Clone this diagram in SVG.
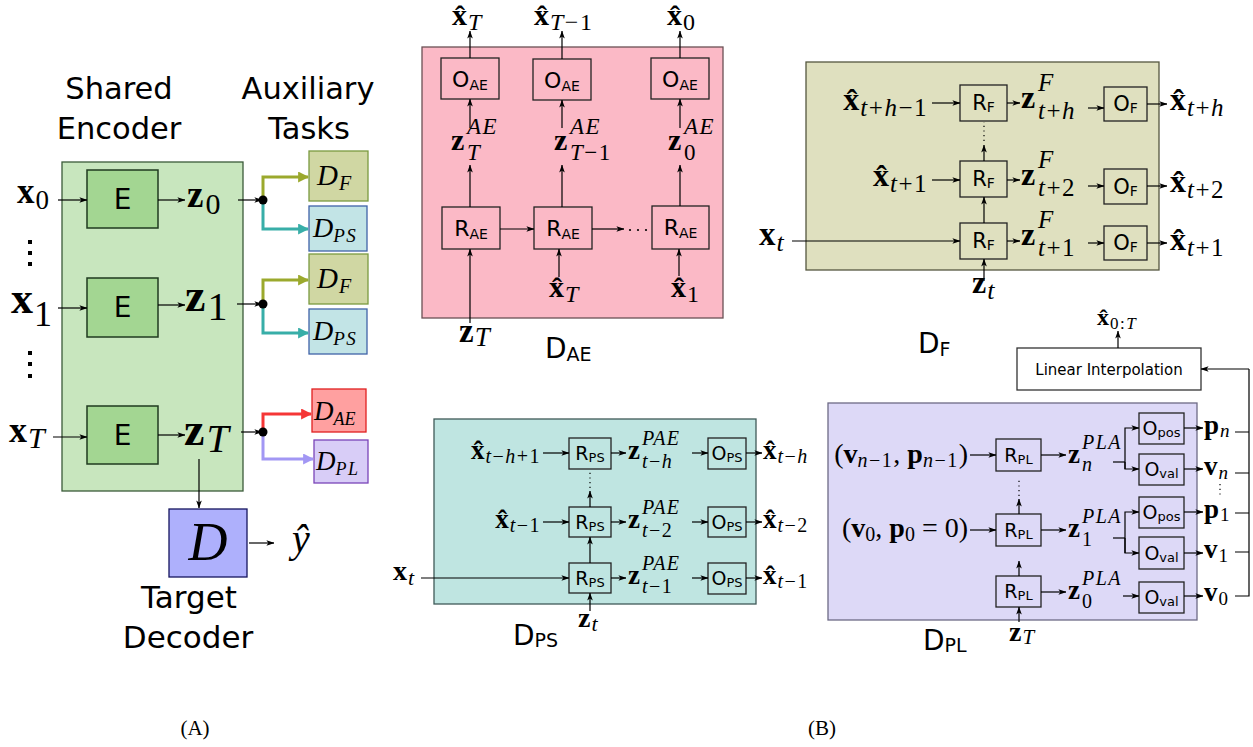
<svg xmlns="http://www.w3.org/2000/svg" width="1253" height="747" viewBox="0 0 1253 747">
<style>
.s{font-family:"DejaVu Sans",sans-serif}
.m{font-family:"Liberation Serif","Times New Roman",serif}
.b{font-weight:bold}
.i{font-style:italic}
.ss{letter-spacing:1.5px}
.ln{fill:none;stroke:#000;stroke-width:1.2;marker-end:url(#ah)}
.pl{fill:none;stroke:#000;stroke-width:1.2}
.dt{fill:none;stroke:#000;stroke-width:1.2;stroke-dasharray:1.2 3.5}
.bx{fill:none;stroke:#222;stroke-width:1.3}
.cl{fill:none;stroke-width:3}
</style>
<defs>
<marker id="ah" viewBox="0 0 10 8" refX="9.5" refY="4" markerWidth="8" markerHeight="6.4" markerUnits="userSpaceOnUse" orient="auto"><path d="M0,0.5 L10,4 L0,7.5 L2.5,4 z" fill="#000"/></marker>
<marker id="ao" viewBox="0 0 10 10" refX="9" refY="5" markerWidth="11" markerHeight="11" markerUnits="userSpaceOnUse" orient="auto"><path d="M0,0 L10,5 L0,10 z" fill="#9ba92d"/></marker>
<marker id="at" viewBox="0 0 10 10" refX="9" refY="5" markerWidth="11" markerHeight="11" markerUnits="userSpaceOnUse" orient="auto"><path d="M0,0 L10,5 L0,10 z" fill="#38aea8"/></marker>
<marker id="ar" viewBox="0 0 10 10" refX="9" refY="5" markerWidth="11" markerHeight="11" markerUnits="userSpaceOnUse" orient="auto"><path d="M0,0 L10,5 L0,10 z" fill="#f53636"/></marker>
<marker id="al" viewBox="0 0 10 10" refX="9" refY="5" markerWidth="11" markerHeight="11" markerUnits="userSpaceOnUse" orient="auto"><path d="M0,0 L10,5 L0,10 z" fill="#a297f4"/></marker>
</defs>
<rect width="1253" height="747" fill="#fff"/>

<!-- ===== Panel A ===== -->
<g id="titles-A" class="s" font-size="30.5" text-anchor="middle">
<text x="119" y="99">Shared</text>
<text x="119" y="139">Encoder</text>
<text x="308" y="99">Auxiliary</text>
<text x="309" y="139">Tasks</text>
</g>
<g id="shared-encoder"><rect x="62" y="162" width="181" height="329" fill="#c8e6be" stroke="#3b5b39" stroke-width="1.3"/></g>
<g id="E0"><rect x="87" y="170" width="71" height="58" fill="#a3d692" stroke="#1f3a1f" stroke-width="1.5"/><text class="s" x="122.5" y="209" font-size="28" text-anchor="middle">E</text></g>
<g id="E1"><rect x="87" y="278" width="71" height="59" fill="#a3d692" stroke="#1f3a1f" stroke-width="1.5"/><text class="s" x="122.5" y="317" font-size="28" text-anchor="middle">E</text></g>
<g id="ET"><rect x="87" y="406" width="71" height="58" fill="#a3d692" stroke="#1f3a1f" stroke-width="1.5"/><text class="s" x="122.5" y="445" font-size="28" text-anchor="middle">E</text></g>
<g id="labels-A" class="m">
<text x="17" y="203" font-size="35"><tspan class="b">x</tspan><tspan font-size="27" dx="1" dy="6">0</tspan></text>
<text x="11" y="313" font-size="44"><tspan class="b">x</tspan><tspan font-size="36" dx="1" dy="13">1</tspan></text>
<text x="9" y="442" font-size="36"><tspan class="b">x</tspan><tspan class="i" font-size="30" dx="1" dy="6">T</tspan></text>
<text x="187" y="207" font-size="37"><tspan class="b">z</tspan><tspan font-size="30" dx="2" dy="7">0</tspan></text>
<text x="185" y="311" font-size="46"><tspan class="b">z</tspan><tspan font-size="40" dx="2" dy="9">1</tspan></text>
<text x="184" y="445" font-size="46"><tspan class="b">z</tspan><tspan class="i" font-size="40" dx="2" dy="7">T</tspan></text>
</g>
<g id="vdots-A" fill="#000">
<rect x="28" y="240" width="4" height="4"/><rect x="28" y="251" width="4" height="4"/><rect x="28" y="262" width="4" height="4"/>
<rect x="28" y="351" width="4" height="4"/><rect x="28" y="362" width="4" height="4"/><rect x="28" y="374" width="4" height="4"/>
</g>
<g id="DF1"><rect x="309" y="151" width="59" height="50" fill="#d0d7a3" stroke="#7a9a40" stroke-width="1.3"/><text class="m i" x="317" y="185" font-size="29">D<tspan font-size="20" dx="1" dy="5">F</tspan></text></g>
<g id="DPS1"><rect x="309" y="206" width="58" height="45" fill="#c2e4e6" stroke="#3f63a8" stroke-width="1.3"/><text class="m i" x="313" y="237" font-size="28">D<tspan class="ss" font-size="19" dy="5">PS</tspan></text></g>
<g id="DF2"><rect x="309" y="254" width="59" height="50" fill="#d0d7a3" stroke="#7a9a40" stroke-width="1.3"/><text class="m i" x="317" y="288" font-size="29">D<tspan font-size="20" dx="1" dy="5">F</tspan></text></g>
<g id="DPS2"><rect x="309" y="309" width="58" height="45" fill="#c2e4e6" stroke="#3f63a8" stroke-width="1.3"/><text class="m i" x="313" y="340" font-size="28">D<tspan class="ss" font-size="19" dy="5">PS</tspan></text></g>
<g id="DAE-aux"><rect x="312" y="389" width="54" height="43" fill="#ffa0a0" stroke="#e02020" stroke-width="1.3"/><text class="m i" x="314" y="420" font-size="27">D<tspan font-size="18" dy="5">AE</tspan></text></g>
<g id="DPL-aux"><rect x="314" y="440" width="54" height="43" fill="#d8cdf7" stroke="#7a44b8" stroke-width="1.3"/><text class="m i" x="316" y="470" font-size="27">D<tspan class="ss" font-size="18" dy="5">PL</tspan></text></g>
<g id="target-decoder"><rect x="169" y="509" width="78" height="68" fill="#aeb0fc" stroke="#15155f" stroke-width="1.3"/><text class="m i" x="208" y="560" font-size="54" text-anchor="middle">D</text></g>
<text id="yhat" class="m i" x="292" y="552" font-size="40">ŷ</text>
<g id="target-title" class="s" font-size="31" text-anchor="middle">
<text x="189" y="608">Target</text>
<text x="188" y="648">Decoder</text>
</g>

<g id="connectors-A">
<path class="ln" d="M58,200 H87"/>
<path class="ln" d="M158,200 H185"/>
<path class="ln" d="M238,200 H262"/>
<path class="ln" d="M58,308 H87"/>
<path class="ln" d="M158,305 H185"/>
<path class="ln" d="M237,304 H262"/>
<path class="ln" d="M53,437 H87"/>
<path class="ln" d="M158,435 H185"/>
<path class="ln" d="M241,432 H262"/>
<path class="cl" stroke="#9ba92d" marker-end="url(#ao)" d="M263,200 V177 H308"/>
<path class="cl" stroke="#38aea8" marker-end="url(#at)" d="M263,200 V229 H308"/>
<path class="cl" stroke="#9ba92d" marker-end="url(#ao)" d="M263,304 V280 H308"/>
<path class="cl" stroke="#38aea8" marker-end="url(#at)" d="M263,304 V333 H308"/>
<path class="cl" stroke="#f53636" marker-end="url(#ar)" d="M263,432 V414 H311"/>
<path class="cl" stroke="#a297f4" marker-end="url(#al)" d="M263,432 V459 H313"/>
<circle cx="263" cy="200" r="4.5"/>
<circle cx="263" cy="304" r="4.5"/>
<circle cx="263" cy="432" r="4.5"/>
<path class="ln" d="M199,459 V508"/>
<path class="ln" d="M249,543 H274"/>
</g>

<!-- ===== D_AE ===== -->
<g id="DAE-panel"><rect x="422" y="47" width="301" height="271" fill="#fbb9c6" stroke="#6b5055" stroke-width="1.3"/></g>
<g id="OAE1"><rect class="bx" x="441" y="58" width="58" height="41"/><text class="s" x="470" y="87" font-size="22" text-anchor="middle">O<tspan font-size="14" dy="3">AE</tspan></text></g>
<g id="OAE2"><rect class="bx" x="533" y="59" width="58" height="41"/><text class="s" x="562" y="88" font-size="22" text-anchor="middle">O<tspan font-size="14" dy="3">AE</tspan></text></g>
<g id="OAE3"><rect class="bx" x="651" y="58" width="58" height="41"/><text class="s" x="680" y="87" font-size="22" text-anchor="middle">O<tspan font-size="14" dy="3">AE</tspan></text></g>
<g id="RAE1"><rect class="bx" x="442" y="207" width="58" height="42"/><text class="s" x="471" y="236" font-size="22" text-anchor="middle">R<tspan font-size="14" dy="3">AE</tspan></text></g>
<g id="RAE2"><rect class="bx" x="534" y="207" width="58" height="42"/><text class="s" x="563" y="236" font-size="22" text-anchor="middle">R<tspan font-size="14" dy="3">AE</tspan></text></g>
<g id="RAE3"><rect class="bx" x="652" y="206" width="57" height="43"/><text class="s" x="680.5" y="235" font-size="22" text-anchor="middle">R<tspan font-size="14" dy="3">AE</tspan></text></g>
<g id="labels-AE" class="m">
<text x="452" y="25" font-size="30"><tspan class="b">x̂</tspan><tspan class="i" font-size="24" dx="1" dy="5">T</tspan></text>
<text x="534" y="25" font-size="30"><tspan class="b">x̂</tspan><tspan class="ss" font-size="24" dx="1" dy="5"><tspan class="i">T</tspan>−1</tspan></text>
<text x="667" y="25" font-size="30"><tspan class="b">x̂</tspan><tspan font-size="24" dx="1" dy="5">0</tspan></text>
<text font-size="30"><tspan class="b" x="451" y="150">z</tspan><tspan class="i ss" font-size="23" x="467" y="134">AE</tspan><tspan class="i" font-size="23" x="467" y="160">T</tspan></text>
<text font-size="30"><tspan class="b" x="554" y="150">z</tspan><tspan class="i ss" font-size="23" x="570" y="134">AE</tspan><tspan class="ss" font-size="23" x="570" y="160"><tspan class="i">T</tspan>−1</tspan></text>
<text font-size="30"><tspan class="b" x="668" y="150">z</tspan><tspan class="i ss" font-size="23" x="684" y="134">AE</tspan><tspan font-size="23" x="684" y="160">0</tspan></text>
<text x="459" y="342" font-size="33"><tspan class="b">z</tspan><tspan class="i" font-size="27" dx="1" dy="4">T</tspan></text>
<text x="549" y="297" font-size="30"><tspan class="b">x̂</tspan><tspan class="i" font-size="24" dx="1" dy="5">T</tspan></text>
<text x="671" y="297" font-size="30"><tspan class="b">x̂</tspan><tspan font-size="24" dx="1" dy="5">1</tspan></text>
</g>
<text id="DAE-title" class="s" x="545" y="358" font-size="28">D<tspan font-size="19" dy="3">AE</tspan></text>
<g id="connectors-AE">
<path class="ln" d="M470,58 V31"/><path class="ln" d="M562,59 V31"/><path class="ln" d="M680,58 V31"/>
<path class="ln" d="M470,128 V99"/><path class="ln" d="M562,128 V100"/><path class="ln" d="M680,128 V99"/>
<path class="ln" d="M470,207 V165"/><path class="ln" d="M562,207 V165"/><path class="ln" d="M680,206 V165"/>
<path class="ln" d="M500,229 H534"/><path class="ln" d="M592,229 H624"/>
<path class="ln" d="M470,323 V249"/><path class="ln" d="M559,277 V249"/><path class="ln" d="M679,276 V249"/>
<g fill="#000"><circle cx="630" cy="230" r="1.1"/><circle cx="638" cy="230" r="1.1"/><circle cx="646" cy="230" r="1.1"/></g>
</g>

<!-- ===== D_F ===== -->
<g id="DF-panel"><rect x="806" y="62" width="353" height="208" fill="#dfe0bf" stroke="#55573f" stroke-width="1.3"/></g>
<g id="RF1"><rect class="bx" x="960" y="85" width="47" height="36"/><text class="s" x="983.5" y="110" font-size="21" text-anchor="middle">R<tspan font-size="14" dy="2">F</tspan></text></g>
<g id="RF2"><rect class="bx" x="960" y="161" width="47" height="36"/><text class="s" x="983.5" y="186" font-size="21" text-anchor="middle">R<tspan font-size="14" dy="2">F</tspan></text></g>
<g id="RF3"><rect class="bx" x="960" y="223" width="47" height="36"/><text class="s" x="983.5" y="248" font-size="21" text-anchor="middle">R<tspan font-size="14" dy="2">F</tspan></text></g>
<g id="OF1"><rect class="bx" x="1104" y="87" width="43" height="34"/><text class="s" x="1125.5" y="111" font-size="21" text-anchor="middle">O<tspan font-size="14" dy="2">F</tspan></text></g>
<g id="OF2"><rect class="bx" x="1104" y="169" width="43" height="35"/><text class="s" x="1125.5" y="194" font-size="21" text-anchor="middle">O<tspan font-size="14" dy="2">F</tspan></text></g>
<g id="OF3"><rect class="bx" x="1104" y="226" width="43" height="34"/><text class="s" x="1125.5" y="250" font-size="21" text-anchor="middle">O<tspan font-size="14" dy="2">F</tspan></text></g>
<g id="labels-F" class="m">
<text x="928" y="110" font-size="32" text-anchor="end"><tspan class="b">x̂</tspan><tspan class="ss" font-size="25" dx="1" dy="6"><tspan class="i">t</tspan>+<tspan class="i">h</tspan>−1</tspan></text>
<text x="928" y="186" font-size="32" text-anchor="end"><tspan class="b">x̂</tspan><tspan class="ss" font-size="25" dx="1" dy="6"><tspan class="i">t</tspan>+1</tspan></text>
<text x="759" y="245" font-size="33"><tspan class="b">x</tspan><tspan class="i" font-size="26" dx="1" dy="6">t</tspan></text>
<text font-size="32"><tspan class="b" x="1021" y="108">z</tspan><tspan class="i" font-size="25" x="1038" y="91">F</tspan><tspan class="ss" font-size="25" x="1038" y="119"><tspan class="i">t</tspan>+<tspan class="i">h</tspan></tspan></text>
<text font-size="32"><tspan class="b" x="1021" y="185">z</tspan><tspan class="i" font-size="25" x="1038" y="168">F</tspan><tspan class="ss" font-size="25" x="1038" y="196"><tspan class="i">t</tspan>+2</tspan></text>
<text font-size="32"><tspan class="b" x="1021" y="245">z</tspan><tspan class="i" font-size="25" x="1038" y="228">F</tspan><tspan class="ss" font-size="25" x="1038" y="256"><tspan class="i">t</tspan>+1</tspan></text>
<text x="1170" y="110" font-size="32"><tspan class="b">x̂</tspan><tspan class="ss" font-size="25" dx="1" dy="6"><tspan class="i">t</tspan>+<tspan class="i">h</tspan></tspan></text>
<text x="1170" y="192" font-size="32"><tspan class="b">x̂</tspan><tspan class="ss" font-size="25" dx="1" dy="6"><tspan class="i">t</tspan>+2</tspan></text>
<text x="1170" y="250" font-size="32"><tspan class="b">x̂</tspan><tspan class="ss" font-size="25" dx="1" dy="6"><tspan class="i">t</tspan>+1</tspan></text>
<text x="972" y="293" font-size="32"><tspan class="b">z</tspan><tspan class="i" font-size="26" dx="1" dy="6">t</tspan></text>
</g>
<text id="DF-title" class="s" x="918" y="353" font-size="28">D<tspan font-size="19" dy="3">F</tspan></text>
<g id="connectors-F">
<path class="ln" d="M932,103 H960"/><path class="ln" d="M932,180 H960"/><path class="ln" d="M792,241 H960"/>
<path class="ln" d="M1007,103 H1020"/><path class="ln" d="M1007,180 H1020"/><path class="ln" d="M1007,241 H1020"/>
<path class="ln" d="M1088,108 H1104"/><path class="ln" d="M1088,186 H1104"/><path class="ln" d="M1088,243 H1104"/>
<path class="ln" d="M1147,104 H1167"/><path class="ln" d="M1147,186 H1167"/><path class="ln" d="M1147,243 H1167"/>
<path class="ln" d="M984,223 V197"/><path class="ln" d="M984,161 V145"/><path class="dt" d="M984,141 V122"/>
<path class="ln" d="M984,281 V259"/>
</g>

<!-- ===== D_PS ===== -->
<g id="DPS-panel"><rect x="434" y="419" width="322" height="185" fill="#bfe5e1" stroke="#3f5a58" stroke-width="1.3"/></g>
<g id="RPS1"><rect class="bx" x="569" y="438" width="42" height="31"/><text class="s" x="590" y="460" font-size="19" text-anchor="middle">R<tspan font-size="13" dy="2">PS</tspan></text></g>
<g id="RPS2"><rect class="bx" x="569" y="507" width="42" height="30"/><text class="s" x="590" y="529" font-size="19" text-anchor="middle">R<tspan font-size="13" dy="2">PS</tspan></text></g>
<g id="RPS3"><rect class="bx" x="569" y="563" width="42" height="30"/><text class="s" x="590" y="585" font-size="19" text-anchor="middle">R<tspan font-size="13" dy="2">PS</tspan></text></g>
<g id="OPS1"><rect class="bx" x="708" y="438" width="38" height="31"/><text class="s" x="727" y="460" font-size="19" text-anchor="middle">O<tspan font-size="13" dy="2">PS</tspan></text></g>
<g id="OPS2"><rect class="bx" x="708" y="507" width="38" height="30"/><text class="s" x="727" y="529" font-size="19" text-anchor="middle">O<tspan font-size="13" dy="2">PS</tspan></text></g>
<g id="OPS3"><rect class="bx" x="708" y="563" width="38" height="31"/><text class="s" x="727" y="585" font-size="19" text-anchor="middle">O<tspan font-size="13" dy="2">PS</tspan></text></g>
<g id="labels-PS" class="m">
<text x="541" y="459" font-size="27" text-anchor="end"><tspan class="b">x̂</tspan><tspan class="ss" font-size="20" dx="1" dy="4"><tspan class="i">t</tspan>−<tspan class="i">h</tspan>+1</tspan></text>
<text x="541" y="528" font-size="27" text-anchor="end"><tspan class="b">x̂</tspan><tspan class="ss" font-size="20" dx="1" dy="4"><tspan class="i">t</tspan>−1</tspan></text>
<text x="393" y="580" font-size="28"><tspan class="b">x</tspan><tspan class="i" font-size="22" dx="1" dy="5">t</tspan></text>
<text font-size="27"><tspan class="b" x="628" y="459">z</tspan><tspan class="i ss" font-size="20" x="642" y="445">PAE</tspan><tspan class="ss" font-size="20" x="642" y="468"><tspan class="i">t</tspan>−<tspan class="i">h</tspan></tspan></text>
<text font-size="27"><tspan class="b" x="628" y="528">z</tspan><tspan class="i ss" font-size="20" x="642" y="514">PAE</tspan><tspan class="ss" font-size="20" x="642" y="537"><tspan class="i">t</tspan>−2</tspan></text>
<text font-size="27"><tspan class="b" x="628" y="584">z</tspan><tspan class="i ss" font-size="20" x="642" y="570">PAE</tspan><tspan class="ss" font-size="20" x="642" y="593"><tspan class="i">t</tspan>−1</tspan></text>
<text x="763" y="459" font-size="27"><tspan class="b">x̂</tspan><tspan class="ss" font-size="20" dx="1" dy="4"><tspan class="i">t</tspan>−<tspan class="i">h</tspan></tspan></text>
<text x="763" y="528" font-size="27"><tspan class="b">x̂</tspan><tspan class="ss" font-size="20" dx="1" dy="4"><tspan class="i">t</tspan>−2</tspan></text>
<text x="763" y="584" font-size="27"><tspan class="b">x̂</tspan><tspan class="ss" font-size="20" dx="1" dy="4"><tspan class="i">t</tspan>−1</tspan></text>
<text x="578" y="627" font-size="28"><tspan class="b">z</tspan><tspan class="i" font-size="22" dx="1" dy="4">t</tspan></text>
</g>
<text id="DPS-title" class="s" x="513" y="645" font-size="28">D<tspan font-size="19" dy="2">PS</tspan></text>
<g id="connectors-PS">
<path class="ln" d="M543,453 H569"/><path class="ln" d="M543,522 H569"/><path class="ln" d="M421,578 H569"/>
<path class="ln" d="M611,453 H626"/><path class="ln" d="M611,522 H626"/><path class="ln" d="M611,578 H626"/>
<path class="ln" d="M692,453 H708"/><path class="ln" d="M692,522 H708"/><path class="ln" d="M692,578 H708"/>
<path class="ln" d="M746,453 H762"/><path class="ln" d="M746,522 H762"/><path class="ln" d="M746,578 H762"/>
<path class="ln" d="M590,563 V537"/><path class="ln" d="M590,507 V491"/><path class="dt" d="M590,488 V470"/>
<path class="ln" d="M590,611 V593"/>
</g>

<!-- ===== D_PL ===== -->
<g id="linear-interp"><rect x="1017" y="348" width="184" height="42" fill="#fff" stroke="#333" stroke-width="1.3"/><text class="s" x="1109" y="375" font-size="15" text-anchor="middle">Linear Interpolation</text></g>
<text id="x0T" class="m" x="1097" y="325" font-size="24"><tspan class="b">x̂</tspan><tspan class="ss" font-size="17" dx="1" dy="4">0:<tspan class="i">T</tspan></tspan></text>
<g id="DPL-panel"><rect x="828" y="403" width="369" height="217" fill="#ddd9f7" stroke="#6d6a86" stroke-width="1.3"/></g>
<g id="RPL1"><rect class="bx" x="996" y="439" width="45" height="32"/><text class="s" x="1018.5" y="462" font-size="19" text-anchor="middle">R<tspan font-size="13" dy="2">PL</tspan></text></g>
<g id="RPL2"><rect class="bx" x="996" y="514" width="45" height="32"/><text class="s" x="1018.5" y="537" font-size="19" text-anchor="middle">R<tspan font-size="13" dy="2">PL</tspan></text></g>
<g id="RPL3"><rect class="bx" x="996" y="576" width="45" height="31"/><text class="s" x="1018.5" y="598" font-size="19" text-anchor="middle">R<tspan font-size="13" dy="2">PL</tspan></text></g>
<g id="Opos1"><rect class="bx" x="1139" y="413" width="45" height="31"/><text class="s" x="1161.5" y="435" font-size="19" text-anchor="middle">O<tspan font-size="13" dy="2">pos</tspan></text></g>
<g id="Oval1"><rect class="bx" x="1139" y="454" width="45" height="31"/><text class="s" x="1161.5" y="476" font-size="19" text-anchor="middle">O<tspan font-size="13" dy="2">val</tspan></text></g>
<g id="Opos2"><rect class="bx" x="1139" y="497" width="45" height="31"/><text class="s" x="1161.5" y="519" font-size="19" text-anchor="middle">O<tspan font-size="13" dy="2">pos</tspan></text></g>
<g id="Oval2"><rect class="bx" x="1139" y="537" width="45" height="32"/><text class="s" x="1161.5" y="560" font-size="19" text-anchor="middle">O<tspan font-size="13" dy="2">val</tspan></text></g>
<g id="Oval3"><rect class="bx" x="1139" y="582" width="45" height="31"/><text class="s" x="1161.5" y="604" font-size="19" text-anchor="middle">O<tspan font-size="13" dy="2">val</tspan></text></g>
<g id="labels-PL" class="m">
<text x="968" y="463" font-size="28" text-anchor="end">(<tspan class="b">v</tspan><tspan class="ss" font-size="20" dy="4"><tspan class="i">n</tspan>−1</tspan><tspan dy="-4">, </tspan><tspan class="b">p</tspan><tspan class="ss" font-size="20" dy="4"><tspan class="i">n</tspan>−1</tspan><tspan dy="-4">)</tspan></text>
<text x="968" y="537" font-size="28" text-anchor="end">(<tspan class="b">v</tspan><tspan font-size="20" dy="4">0</tspan><tspan dy="-4">, </tspan><tspan class="b">p</tspan><tspan font-size="20" dy="4">0</tspan><tspan dy="-4"> = 0)</tspan></text>
<text font-size="27"><tspan class="b" x="1068" y="463">z</tspan><tspan class="i ss" font-size="20" x="1082" y="449">PLA</tspan><tspan class="i" font-size="20" x="1082" y="471">n</tspan></text>
<text font-size="27"><tspan class="b" x="1068" y="537">z</tspan><tspan class="i ss" font-size="20" x="1082" y="523">PLA</tspan><tspan font-size="20" x="1082" y="546">1</tspan></text>
<text font-size="27"><tspan class="b" x="1068" y="599">z</tspan><tspan class="i ss" font-size="20" x="1082" y="585">PLA</tspan><tspan font-size="20" x="1082" y="608">0</tspan></text>
<text x="1204" y="434" font-size="27"><tspan class="b">p</tspan><tspan class="i" font-size="19" dx="1" dy="3">n</tspan></text>
<text x="1204" y="475" font-size="27"><tspan class="b">v</tspan><tspan class="i" font-size="19" dx="1" dy="4">n</tspan></text>
<text x="1204" y="518" font-size="27"><tspan class="b">p</tspan><tspan font-size="19" dx="1" dy="3">1</tspan></text>
<text x="1204" y="558" font-size="27"><tspan class="b">v</tspan><tspan font-size="19" dx="1" dy="4">1</tspan></text>
<text x="1204" y="601" font-size="27"><tspan class="b">v</tspan><tspan font-size="19" dx="1" dy="4">0</tspan></text>
<text x="1009" y="641" font-size="28"><tspan class="b">z</tspan><tspan class="i" font-size="21" dx="1" dy="3">T</tspan></text>
</g>
<text id="DPL-title" class="s" x="923" y="650" font-size="28">D<tspan font-size="19" dy="2">PL</tspan></text>
<g id="connectors-PL">
<path class="ln" d="M970,455 H996"/><path class="ln" d="M970,530 H996"/>
<path class="ln" d="M1041,455 H1066"/><path class="ln" d="M1041,530 H1066"/><path class="ln" d="M1041,592 H1066"/>
<path class="pl" d="M1113,462 H1125"/><path class="ln" d="M1125,469 V428 H1139"/><path class="ln" d="M1125,462 V469 H1139"/>
<path class="pl" d="M1113,538 H1125"/><path class="ln" d="M1125,553 V512 H1139"/><path class="ln" d="M1125,538 V553 H1139"/>
<path class="ln" d="M1123,596 H1139"/>
<path class="ln" d="M1184,428 H1203"/><path class="ln" d="M1184,469 H1203"/><path class="ln" d="M1184,512 H1203"/><path class="ln" d="M1184,553 H1203"/><path class="ln" d="M1184,596 H1203"/>
<path class="pl" d="M1235,432 H1249 M1235,473 H1249 M1235,513 H1249 M1235,552 H1249 M1235,596 H1249 V369"/>
<path class="ln" d="M1249,369 H1201"/>
<path class="ln" d="M1118,348 V331"/>
<path class="ln" d="M1019,576 V561"/><path class="ln" d="M1019,514 V499"/><path class="dt" d="M1019,496 V480"/>
<path class="ln" d="M1019,622 V607"/>
<path class="dt" d="M1220,484 V498"/>
</g>

<g id="captions" class="m" font-size="21" text-anchor="middle">
<text x="195" y="735">(A)</text>
<text x="822" y="735">(B)</text>
</g>
</svg>
